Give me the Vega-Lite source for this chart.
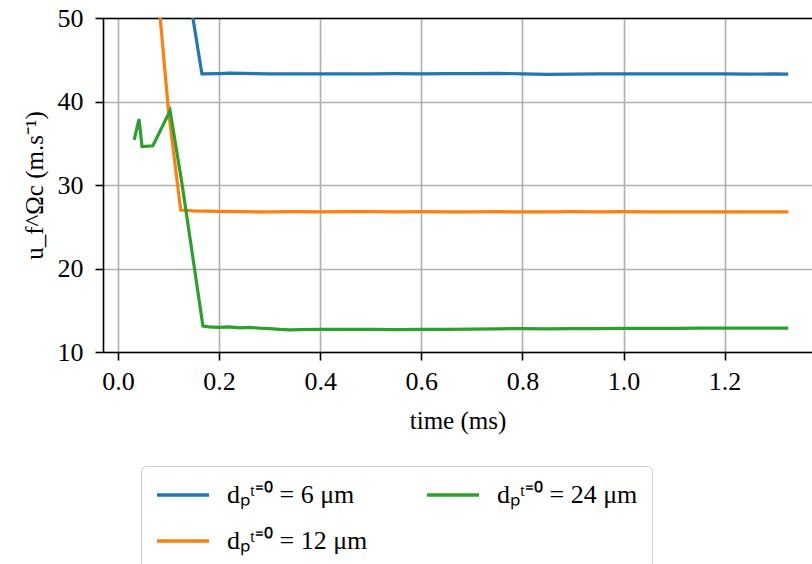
{
  "$schema": "https://vega.github.io/schema/vega-lite/v6.json",
  "width": 709,
  "height": 334,
  "autosize": {"type": "none"},
  "padding": {"left": 103, "top": 18, "right": 0, "bottom": 212},
  "background": "white",
  "config": {
    "view": {"stroke": null},
    "font": "Liberation Serif",
    "axis": {
      "labelFont": "Liberation Serif",
      "titleFont": "Liberation Serif",
      "labelFontSize": 26,
      "titleFontSize": 25,
      "titleFontWeight": "normal",
      "labelColor": "black",
      "titleColor": "black",
      "domainColor": "black",
      "domainWidth": 1.6,
      "tickColor": "black",
      "tickWidth": 1.6,
      "tickSize": 8,
      "gridColor": "#b0b0b0",
      "gridWidth": 1.6,
      "gridOpacity": 1
    },
    "legend": {
      "labelFont": "Liberation Serif",
      "labelFontSize": 26,
      "labelColor": "black"
    }
  },
  "data": {
    "values": [
      {"t": 0.12, "u": 60.6, "d": "6"},
      {"t": 0.166, "u": 43.3, "d": "6"},
      {"t": 0.2, "u": 43.35, "d": "6"},
      {"t": 0.22, "u": 43.4, "d": "6"},
      {"t": 0.25, "u": 43.38, "d": "6"},
      {"t": 0.3, "u": 43.3, "d": "6"},
      {"t": 0.35, "u": 43.3, "d": "6"},
      {"t": 0.4, "u": 43.32, "d": "6"},
      {"t": 0.45, "u": 43.3, "d": "6"},
      {"t": 0.5, "u": 43.32, "d": "6"},
      {"t": 0.55, "u": 43.33, "d": "6"},
      {"t": 0.6, "u": 43.32, "d": "6"},
      {"t": 0.65, "u": 43.34, "d": "6"},
      {"t": 0.7, "u": 43.35, "d": "6"},
      {"t": 0.75, "u": 43.38, "d": "6"},
      {"t": 0.8, "u": 43.32, "d": "6"},
      {"t": 0.85, "u": 43.26, "d": "6"},
      {"t": 0.9, "u": 43.28, "d": "6"},
      {"t": 0.95, "u": 43.3, "d": "6"},
      {"t": 1.0, "u": 43.3, "d": "6"},
      {"t": 1.05, "u": 43.32, "d": "6"},
      {"t": 1.1, "u": 43.3, "d": "6"},
      {"t": 1.15, "u": 43.3, "d": "6"},
      {"t": 1.2, "u": 43.32, "d": "6"},
      {"t": 1.25, "u": 43.28, "d": "6"},
      {"t": 1.3, "u": 43.3, "d": "6"},
      {"t": 1.326, "u": 43.27, "d": "6"},
      {"t": 0.07, "u": 59.1, "d": "12"},
      {"t": 0.1, "u": 38.8, "d": "12"},
      {"t": 0.124, "u": 27.0, "d": "12"},
      {"t": 0.15, "u": 26.9, "d": "12"},
      {"t": 0.2, "u": 26.85, "d": "12"},
      {"t": 0.25, "u": 26.8, "d": "12"},
      {"t": 0.3, "u": 26.78, "d": "12"},
      {"t": 0.35, "u": 26.8, "d": "12"},
      {"t": 0.4, "u": 26.78, "d": "12"},
      {"t": 0.45, "u": 26.8, "d": "12"},
      {"t": 0.5, "u": 26.8, "d": "12"},
      {"t": 0.55, "u": 26.78, "d": "12"},
      {"t": 0.6, "u": 26.8, "d": "12"},
      {"t": 0.65, "u": 26.78, "d": "12"},
      {"t": 0.7, "u": 26.78, "d": "12"},
      {"t": 0.75, "u": 26.8, "d": "12"},
      {"t": 0.8, "u": 26.78, "d": "12"},
      {"t": 0.85, "u": 26.78, "d": "12"},
      {"t": 0.9, "u": 26.8, "d": "12"},
      {"t": 0.95, "u": 26.78, "d": "12"},
      {"t": 1.0, "u": 26.8, "d": "12"},
      {"t": 1.05, "u": 26.78, "d": "12"},
      {"t": 1.1, "u": 26.78, "d": "12"},
      {"t": 1.15, "u": 26.78, "d": "12"},
      {"t": 1.2, "u": 26.78, "d": "12"},
      {"t": 1.25, "u": 26.78, "d": "12"},
      {"t": 1.3, "u": 26.78, "d": "12"},
      {"t": 1.326, "u": 26.77, "d": "12"},
      {"t": 0.032, "u": 35.4, "d": "24"},
      {"t": 0.0415, "u": 37.9, "d": "24"},
      {"t": 0.0475, "u": 34.6, "d": "24"},
      {"t": 0.069, "u": 34.7, "d": "24"},
      {"t": 0.103, "u": 38.9, "d": "24"},
      {"t": 0.126, "u": 30.4, "d": "24"},
      {"t": 0.168, "u": 13.1, "d": "24"},
      {"t": 0.18, "u": 13.0, "d": "24"},
      {"t": 0.2, "u": 12.95, "d": "24"},
      {"t": 0.22, "u": 13.0, "d": "24"},
      {"t": 0.24, "u": 12.9, "d": "24"},
      {"t": 0.26, "u": 12.95, "d": "24"},
      {"t": 0.28, "u": 12.85, "d": "24"},
      {"t": 0.3, "u": 12.8, "d": "24"},
      {"t": 0.32, "u": 12.7, "d": "24"},
      {"t": 0.34, "u": 12.65, "d": "24"},
      {"t": 0.36, "u": 12.68, "d": "24"},
      {"t": 0.4, "u": 12.7, "d": "24"},
      {"t": 0.45, "u": 12.7, "d": "24"},
      {"t": 0.5, "u": 12.7, "d": "24"},
      {"t": 0.55, "u": 12.68, "d": "24"},
      {"t": 0.6, "u": 12.72, "d": "24"},
      {"t": 0.65, "u": 12.72, "d": "24"},
      {"t": 0.7, "u": 12.75, "d": "24"},
      {"t": 0.75, "u": 12.78, "d": "24"},
      {"t": 0.8, "u": 12.8, "d": "24"},
      {"t": 0.85, "u": 12.78, "d": "24"},
      {"t": 0.9, "u": 12.8, "d": "24"},
      {"t": 0.95, "u": 12.8, "d": "24"},
      {"t": 1.0, "u": 12.82, "d": "24"},
      {"t": 1.05, "u": 12.82, "d": "24"},
      {"t": 1.1, "u": 12.84, "d": "24"},
      {"t": 1.15, "u": 12.85, "d": "24"},
      {"t": 1.2, "u": 12.85, "d": "24"},
      {"t": 1.25, "u": 12.85, "d": "24"},
      {"t": 1.3, "u": 12.86, "d": "24"},
      {"t": 1.326, "u": 12.87, "d": "24"}
    ]
  },
  "layer": [
    {
      "mark": {"type": "line", "strokeWidth": 3.2, "clip": true},
      "encoding": {
        "x": {
          "field": "t",
          "type": "quantitative",
          "scale": {"domain": [-0.0297, 1.3729], "nice": false, "zero": false},
          "axis": {
            "values": [0, 0.2, 0.4, 0.6, 0.8, 1.0, 1.2],
            "format": ".1f",
            "title": "time (ms)",
            "labelPadding": 8,
            "titlePadding": 14
          }
        },
        "y": {
          "field": "u",
          "type": "quantitative",
          "scale": {"domain": [10, 50], "nice": false, "zero": false},
          "axis": {
            "values": [10, 20, 30, 40, 50],
            "title": "u_f^Ωc (m.s⁻¹)",
            "labelPadding": 12,
            "titlePadding": 10
          }
        },
        "color": {
          "field": "d",
          "type": "nominal",
          "scale": {"domain": ["6", "12", "24"], "range": ["#1f77b4", "#ff7f0e", "#2ca02c"]},
          "legend": {
            "title": null,
            "orient": "none",
            "direction": "vertical",
            "legendX": 38,
            "legendY": 448,
            "columns": 2,
            "symbolType": "M-2,0H2",
            "symbolSize": 676,
            "symbolStrokeWidth": 3.5,
            "symbolOffset": 13,
            "labelOffset": 29,
            "columnPadding": 52,
            "rowPadding": 18,
            "padding": 14,
            "strokeColor": "#cccccc",
            "fillColor": "white",
            "cornerRadius": 5,
            "labelExpr": "'dₚᵗ⁼⁰ = ' + datum.label + ' μm'"
          }
        }
      }
    },
    {
      "mark": {"type": "rule", "opacity": 0},
      "encoding": {
        "x": {
          "field": "t",
          "type": "quantitative",
          "axis": {
            "orient": "top",
            "labels": false,
            "ticks": false,
            "grid": false,
            "title": null,
            "domainColor": "black"
          }
        }
      }
    }
  ],
  "resolve": {"axis": {"x": "independent"}}
}
